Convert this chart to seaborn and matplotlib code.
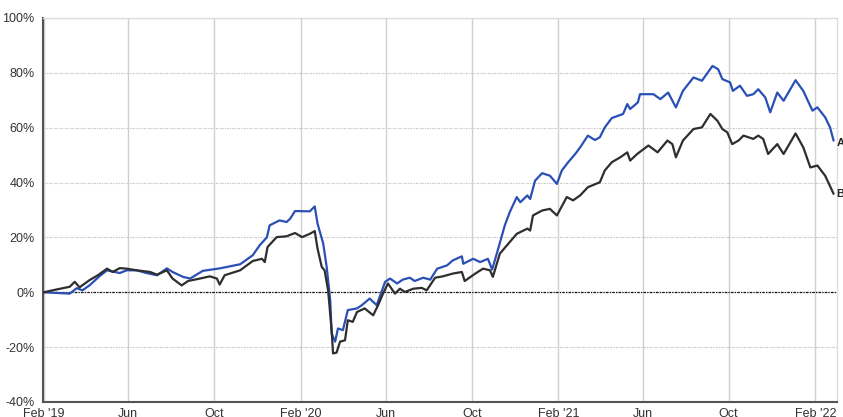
import matplotlib.pyplot as plt
import pandas as pd
import seaborn as sns

# series A (blue)
a_dates = ["2019-02-01", "2019-03-10", "2019-03-20", "2019-03-28", "2019-04-07", "2019-04-22",
           "2019-05-02", "2019-05-20", "2019-05-30", "2019-06-13", "2019-06-27", "2019-07-12",
           "2019-07-26", "2019-08-03", "2019-08-18", "2019-08-28", "2019-09-15", "2019-10-09",
           "2019-11-07", "2019-11-25", "2019-12-05", "2019-12-15", "2019-12-19", "2020-01-02",
           "2020-01-12", "2020-01-17", "2020-01-24", "2020-02-14", "2020-02-21", "2020-02-25",
           "2020-03-04", "2020-03-09", "2020-03-14", "2020-03-16", "2020-03-21", "2020-03-25",
           "2020-04-01", "2020-04-08", "2020-04-21", "2020-04-28", "2020-05-09", "2020-05-19",
           "2020-05-31", "2020-06-07", "2020-06-17", "2020-06-25", "2020-07-05", "2020-07-12",
           "2020-07-24", "2020-08-03", "2020-08-13", "2020-08-27", "2020-09-04", "2020-09-17",
           "2020-09-19", "2020-10-03", "2020-10-13", "2020-10-24", "2020-10-30", "2020-11-07",
           "2020-11-17", "2020-11-24", "2020-12-04", "2020-12-09", "2020-12-19", "2020-12-23",
           "2020-12-30", "2021-01-09", "2021-01-20", "2021-01-30", "2021-02-06", "2021-02-15",
           "2021-02-25", "2021-03-04", "2021-03-15", "2021-03-25", "2021-04-01", "2021-04-08",
           "2021-04-18", "2021-05-04", "2021-05-10", "2021-05-14", "2021-05-25", "2021-05-28",
           "2021-06-16", "2021-06-26", "2021-07-07", "2021-07-18", "2021-07-28", "2021-08-12",
           "2021-08-24", "2021-09-08", "2021-09-16", "2021-09-22", "2021-10-03", "2021-10-07",
           "2021-10-17", "2021-10-27", "2021-11-05", "2021-11-12", "2021-11-22", "2021-11-29",
           "2021-12-09", "2021-12-18", "2022-01-04", "2022-01-15", "2022-01-28", "2022-02-04",
           "2022-02-15", "2022-02-22", "2022-02-27"]
a_vals = [0, -0.5, 1.5, 0.7, 2.5, 6,
          8, 7, 8, 8, 7, 6.2,
          8.7, 7.4, 5.6, 5, 7.8, 8.7,
          10.2, 13.5, 17.2, 20, 24.4, 26.2,
          25.6, 26.8, 29.6, 29.5, 31.3, 25,
          17.8, 9.2, -2.9, -15, -18, -13.2,
          -13.8, -6.5, -5.9, -4.7, -2.3, -4.7,
          3.8, 5, 3.2, 4.6, 5.3, 4.1,
          5.3, 4.6, 8.6, 9.8, 11.6, 13.1,
          10.4, 12.2, 11, 12.2, 8.3, 15.3,
          24.4, 29.2, 34.7, 32.8, 35.3, 34,
          40.7, 43.4, 42.5, 39.5, 44.4, 47.4,
          50.4, 52.8, 57.1, 55.5, 56.5, 60.1,
          63.5, 65, 68.6, 66.8, 69.2, 72.2,
          72.2, 70.4, 72.8, 67.4, 73.4, 78.3,
          77.1, 82.5, 81.3, 77.7, 76.5, 73.4,
          75.3, 71.6, 72.2, 74, 71, 65.6,
          72.8, 69.8, 77.3, 73.4, 66.2, 67.4,
          63.8, 60.1, 55.3]

# series B (black)
b_dates = ["2019-02-01", "2019-02-19", "2019-03-10", "2019-03-17", "2019-03-24", "2019-04-07",
           "2019-04-19", "2019-05-02", "2019-05-10", "2019-05-20", "2019-05-30", "2019-06-13",
           "2019-07-02", "2019-07-12", "2019-07-26", "2019-08-03", "2019-08-16", "2019-08-25",
           "2019-09-11", "2019-09-25", "2019-10-05", "2019-10-09", "2019-10-16", "2019-11-07",
           "2019-11-25", "2019-12-08", "2019-12-12", "2019-12-16", "2019-12-29", "2020-01-12",
           "2020-01-24", "2020-02-03", "2020-02-14", "2020-02-21", "2020-02-25", "2020-03-02",
           "2020-03-06", "2020-03-11", "2020-03-16", "2020-03-18", "2020-03-23", "2020-03-28",
           "2020-04-04", "2020-04-08", "2020-04-15", "2020-04-21", "2020-05-02", "2020-05-14",
           "2020-05-21", "2020-05-28", "2020-06-04", "2020-06-14", "2020-06-21", "2020-06-28",
           "2020-07-10", "2020-07-22", "2020-07-29", "2020-08-10", "2020-08-21", "2020-09-04",
           "2020-09-17", "2020-09-21", "2020-10-06", "2020-10-17", "2020-10-27", "2020-10-31",
           "2020-11-10", "2020-11-24", "2020-12-04", "2020-12-19", "2020-12-23", "2020-12-27",
           "2021-01-09", "2021-01-20", "2021-01-30", "2021-02-13", "2021-02-22", "2021-03-04",
           "2021-03-15", "2021-04-01", "2021-04-08", "2021-04-18", "2021-04-30", "2021-05-10",
           "2021-05-14", "2021-05-24", "2021-06-09", "2021-06-22", "2021-07-06", "2021-07-13",
           "2021-07-18", "2021-07-28", "2021-08-12", "2021-08-24", "2021-09-05", "2021-09-15",
           "2021-09-22", "2021-09-29", "2021-10-06", "2021-10-15", "2021-10-22", "2021-11-05",
           "2021-11-12", "2021-11-19", "2021-11-26", "2021-12-09", "2021-12-18", "2022-01-04",
           "2022-01-15", "2022-01-25", "2022-02-04", "2022-02-15", "2022-02-27"]
b_vals = [0, 1, 2, 3.8, 1.8, 4.4,
          6.2, 8.6, 7.4, 8.8, 8.6, 8,
          7.4, 6.4, 8, 5, 2.5, 4.1,
          5, 5.8, 5, 2.8, 6.2, 8,
          11.4, 12.2, 11, 16.5, 20.1, 20.4,
          21.6, 20.1, 21.3, 22.3, 15.9, 9.2,
          8, 0.7, -13.8, -22.3, -22, -18,
          -17.5, -10.2, -10.8, -7.2, -5.9, -8.4,
          -4.7, -0.5, 3.2, -0.5, 1.3, 0.1,
          1.3, 1.6, 0.7, 5.3, 5.8, 6.8,
          7.4, 4.1, 6.8, 8.6, 8, 5.6,
          14.1, 18.3, 21.3, 23.2, 22.5, 28,
          29.8, 30.4, 28, 34.7, 33.5, 35.3,
          38.3, 40.1, 44.4, 47.4, 49.2, 51,
          48, 50.4, 53.5, 51, 55.3, 54,
          49.2, 55.3, 59.5, 60.1, 65, 62.5,
          59.5, 58.3, 54, 55.3, 57.1, 55.9,
          57.1, 55.9, 50.4, 54, 50.4, 57.9,
          52.8, 45.5, 46.2, 42.5, 35.9]

tick_dates = ["2019-02-01", "2019-06-01", "2019-10-01", "2020-02-01", "2020-06-01", "2020-10-01",
              "2021-02-01", "2021-06-01", "2021-10-01", "2022-02-01"]
tick_labels = ["Feb '19", "Jun", "Oct", "Feb '20", "Jun", "Oct", "Feb '21", "Jun", "Oct", "Feb '22"]
y_ticks = [-40, -20, 0, 20, 40, 60, 80, 100]

df = pd.concat([
    pd.DataFrame({"date": pd.to_datetime(a_dates), "value": a_vals, "series": "A"}),
    pd.DataFrame({"date": pd.to_datetime(b_dates), "value": b_vals, "series": "B"}),
])

sns.set_style("white")
plt.rcParams['font.family'] = ['Liberation Sans', 'DejaVu Sans']

fig = plt.figure(figsize=(8.43, 4.17), dpi=100)
ax = fig.add_axes([0.051, 0.036, 0.942, 0.921])

sns.lineplot(data=df, x="date", y="value", hue="series",
             palette={"A": "#2a4fb5", "B": "#2e2e2e"}, linewidth=1.6,
             legend=False, ax=ax, zorder=3)

ax.set_xlim(pd.Timestamp("2019-01-31"), pd.Timestamp("2022-03-04"))
ax.set_ylim(-40, 100)
ax.set_xticks(pd.to_datetime(tick_dates))
ax.set_xticklabels(tick_labels)
ax.set_yticks(y_ticks)
ax.set_yticklabels([f"{v}%" for v in y_ticks])
ax.set_xlabel("")
ax.set_ylabel("")

ax.grid(axis="x", color="#d0d0d0", linewidth=1, linestyle="-")
ax.grid(axis="y", color="#c8c8c8", linewidth=0.8, linestyle=(0, (2, 1, 1, 1)))
ax.axhline(0, color="#111111", linewidth=0.9, linestyle=(0, (2, 1, 1, 1)), zorder=2)

for side in ["left", "bottom"]:
    ax.spines[side].set_color("#555555")
    ax.spines[side].set_linewidth(1.5)
for side in ["top", "right"]:
    ax.spines[side].set_color("#dddddd")
    ax.spines[side].set_linewidth(1)

ax.tick_params(axis="both", labelsize=9, colors="#333333", length=3, width=0.8, pad=1)
ax.tick_params(axis="y", pad=3)

ax.annotate("A", xy=(pd.Timestamp(a_dates[-1]), a_vals[-1]), xytext=(2, -2),
            textcoords="offset points", fontsize=8, fontweight="bold",
            va="center", ha="left", annotation_clip=False)
ax.annotate("B", xy=(pd.Timestamp(b_dates[-1]), b_vals[-1]), xytext=(2, 0),
            textcoords="offset points", fontsize=8, fontweight="bold",
            va="center", ha="left", annotation_clip=False)

fig.savefig("out.png", dpi=100)
